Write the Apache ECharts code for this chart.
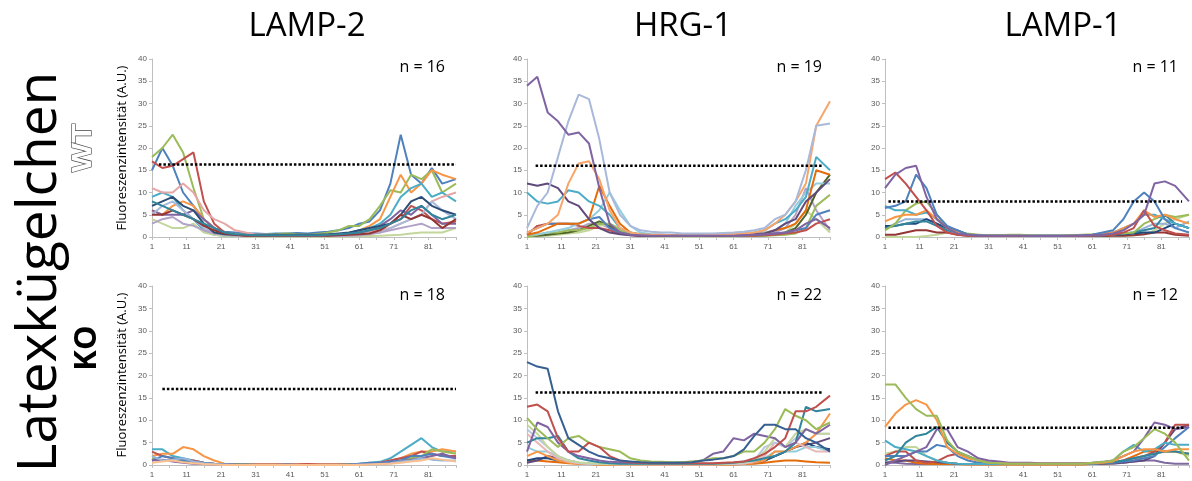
<!DOCTYPE html>
<html>
<head>
<meta charset="utf-8">
<script src="https://cdn.jsdelivr.net/npm/echarts@6/dist/echarts.min.js"></script>
<style>
  html, body { margin: 0; padding: 0; background: #fff; }
  #chart { width: 1192px; height: 481px; }
</style>
</head>
<body>
<div id="chart"></div>
<script>
// Messpositionen entlang des Profils (Pixel 1..89)
const xs = [1, 4, 7, 10, 13, 16, 19, 22, 25, 28, 31, 34, 37, 40, 43, 46, 49, 52, 55, 58, 61, 64, 67, 70, 73, 76, 79, 82, 85, 89];

const genes = ['LAMP-2', 'HRG-1', 'LAMP-1'];
const nCounts = [16, 18, 19, 22, 11, 12];
// Schwellenwert (gepunktete Linie): Höhe, Start, Ende
const thresholds = [16.3, 17, 16, 16.2, 8, 8.3];
const thrStart = [3, 4, 3.5, 3.5, 2, 2];
const thrEnd = [89, 89, 87, 87, 87, 88];

// LAMP-2 WT
const lamp2WT = [
  [15, 20, 16, 10, 7, 4, 2, 1.2, 1, 0.8, 0.8, 0.7, 0.8, 0.8, 0.9, 0.8, 1, 1.2, 1.5, 2, 3, 3.5, 6, 12, 23, 14, 12, 15.5, 12, 13],
  [18, 20, 23, 19, 11, 4, 2, 1, 0.6, 0.5, 0.5, 0.5, 0.6, 0.8, 0.6, 0.5, 0.7, 1, 1.5, 2.5, 2.5, 4, 7, 10.5, 10, 14, 13, 15, 10, 12],
  [17, 15.5, 16, 17.5, 19, 8, 3, 1, 0.5, 0.3, 0.3, 0.3, 0.2, 0.3, 0.3, 0.3, 0.3, 0.3, 0.4, 0.4, 0.5, 1, 2, 3, 4, 7, 6, 4, 3, 3.5],
  [6, 5, 7, 8, 7, 4, 2, 0.8, 0.5, 0.4, 0.3, 0.3, 0.3, 0.3, 0.3, 0.3, 0.4, 0.4, 0.5, 0.8, 1.5, 2.5, 4, 9, 14, 10, 12, 15, 14, 13],
  [9, 10, 9, 6, 4, 1.5, 0.5, 0.3, 0.3, 0.3, 0.2, 0.2, 0.3, 0.3, 0.3, 0.3, 0.3, 0.4, 0.5, 0.8, 1.5, 2, 3, 5, 9, 11, 12, 9, 10, 8],
  [11, 10, 10, 12, 10, 6, 4, 3, 1.5, 1, 0.5, 0.5, 0.4, 0.4, 0.4, 0.4, 0.5, 0.5, 0.6, 0.8, 1, 1.2, 1.5, 2, 3, 4, 5, 8, 9, 10],
  [6, 5, 5, 5, 6, 4, 2, 1, 0.5, 0.4, 0.3, 0.3, 0.3, 0.3, 0.3, 0.3, 0.3, 0.4, 0.5, 0.6, 1, 1.5, 2.5, 4, 6, 5, 7, 5, 3, 3],
  [5, 7, 8, 6, 4, 2, 1, 0.5, 0.3, 0.2, 0.2, 0.2, 0.2, 0.2, 0.2, 0.2, 0.2, 0.2, 0.2, 0.3, 0.5, 0.8, 1, 2, 3, 4, 5, 8, 6, 4],
  [4, 3, 2, 2, 3, 1, 0.5, 0.3, 0.2, 0.1, 0.1, 0.1, 0.1, 0.1, 0.1, 0.1, 0.1, 0.1, 0.1, 0.1, 0.2, 0.2, 0.3, 0.4, 0.5, 0.8, 1, 1, 1, 2],
  [3, 4, 4.5, 3, 2.5, 1.5, 0.8, 0.5, 0.3, 0.2, 0.2, 0.2, 0.2, 0.2, 0.2, 0.2, 0.2, 0.2, 0.2, 0.3, 0.4, 0.6, 1, 1.5, 2, 2.5, 3, 2, 2, 2],
  [7, 8, 9, 7, 6, 3, 1, 0.6, 0.5, 0.4, 0.4, 0.4, 0.5, 0.5, 0.5, 0.5, 0.5, 0.6, 0.8, 1, 1.5, 2, 2.5, 3, 5, 8, 9, 7, 6, 5],
  [5, 5, 6, 5, 4, 2.5, 1.5, 0.8, 0.5, 0.3, 0.3, 0.3, 0.3, 0.3, 0.3, 0.3, 0.3, 0.3, 0.4, 0.5, 0.6, 0.8, 1.5, 3, 5, 4, 5, 4, 2, 4],
  [8, 7, 6, 5, 4, 3, 2, 1, 0.6, 0.5, 0.4, 0.4, 0.4, 0.4, 0.4, 0.4, 0.4, 0.5, 0.6, 0.8, 1, 1.5, 2, 3, 4, 6, 7, 5, 4, 5]
];
const lamp2WTColors = ['#4F81BD', '#9BBB59', '#C0504D', '#F79646', '#4BACC6', '#E6A6A6', '#8064A2', '#A9B9DA', '#C3D69B', '#B3A2C7', '#2C4D75', '#943634', '#31859C'];

// LAMP-2 KO
const lamp2KO = [
  [3.5, 3.5, 2, 1.5, 1, 0.5, 0.3, 0.2, 0.1, 0.1, 0.1, 0.1, 0.1, 0.1, 0.1, 0.1, 0.1, 0.1, 0.1, 0.2, 0.3, 0.5, 0.7, 1.5, 3, 4.5, 6, 4, 3, 3],
  [2, 2.5, 2.5, 4, 3.5, 2, 1, 0.3, 0.2, 0.1, 0.1, 0.1, 0.1, 0.1, 0.1, 0.2, 0.1, 0.1, 0.1, 0.1, 0.2, 0.3, 0.5, 1, 1.5, 2.5, 3, 3, 3.5, 3],
  [3, 2, 1.5, 1, 1, 0.5, 0.3, 0.2, 0.1, 0.1, 0.1, 0.1, 0.1, 0.1, 0.1, 0.2, 0.1, 0.1, 0.1, 0.1, 0.2, 0.3, 0.5, 1, 1.5, 2, 3, 2.5, 2, 2],
  [1.5, 1, 1, 0.8, 0.5, 0.3, 0.2, 0.1, 0.1, 0.1, 0, 0, 0, 0, 0, 0, 0, 0, 0, 0.1, 0.1, 0.2, 0.3, 0.6, 1, 1.5, 2, 3.5, 3, 2.5],
  [1, 2, 1.5, 1, 0.8, 0.5, 0.3, 0.2, 0.1, 0.1, 0, 0, 0, 0.1, 0, 0, 0, 0, 0, 0.1, 0.3, 0.5, 0.5, 0.8, 1, 2, 2, 2.5, 2, 1.5],
  [1, 1.2, 0.8, 0.5, 0.3, 0.2, 0.1, 0.1, 0, 0, 0, 0, 0, 0, 0, 0, 0, 0, 0, 0, 0.1, 0.2, 0.3, 0.5, 0.8, 1.2, 1.5, 2, 2.5, 1.5],
  [2, 1, 1.2, 1.5, 0.8, 0.4, 0.2, 0.1, 0, 0, 0, 0, 0, 0, 0, 0, 0, 0, 0, 0, 0.1, 0.1, 0.2, 0.4, 0.8, 1, 1.5, 1.2, 1, 1],
  [0.5, 0.8, 1, 0.6, 0.4, 0.2, 0.1, 0, 0, 0, 0, 0, 0, 0, 0, 0, 0, 0, 0, 0, 0, 0.1, 0.2, 0.3, 0.5, 0.8, 1, 1.5, 1.2, 0.8]
];
const lamp2KOColors = ['#4BACC6', '#F79646', '#C0504D', '#9BBB59', '#4F81BD', '#8064A2', '#95B3D7', '#FAC090'];

// HRG-1 WT
const hrg1WT = [
  [0.3, 0.5, 0.5, 1, 1.5, 2, 3, 3, 2, 1, 0.5, 0.3, 0.2, 0.2, 0.2, 0.2, 0.2, 0.2, 0.2, 0.2, 0.2, 0.3, 0.4, 0.5, 1, 2, 5, 11, 6, 1.5],
  [0, 0.2, 0.3, 0.5, 0.8, 1, 1.5, 2.5, 3, 2, 0.8, 0.3, 0.2, 0.1, 0.1, 0.1, 0.1, 0.1, 0.1, 0.1, 0.1, 0.2, 0.2, 0.3, 0.5, 1, 3, 6, 4, 1],
  [0.2, 0.3, 0.5, 0.8, 1, 1.5, 2.5, 3.5, 2.5, 1, 0.5, 0.3, 0.2, 0.2, 0.2, 0.2, 0.2, 0.2, 0.2, 0.2, 0.2, 0.3, 0.3, 0.4, 0.5, 1, 2, 5, 10, 14],
  [0, 0.5, 1, 1, 1.5, 1.5, 2, 3, 3, 1.5, 0.6, 0.3, 0.2, 0.2, 0.2, 0.2, 0.2, 0.2, 0.2, 0.2, 0.2, 0.2, 0.3, 0.3, 0.4, 0.5, 0.8, 2, 7, 9.5],
  [0.5, 2.5, 3, 3, 3, 2.5, 2, 2, 1.5, 0.8, 0.4, 0.3, 0.3, 0.2, 0.2, 0.2, 0.2, 0.2, 0.2, 0.2, 0.2, 0.3, 0.3, 0.4, 0.5, 0.8, 1, 1.5, 3, 4],
  [1, 2, 3, 3, 3, 3, 4, 4.5, 2, 1, 0.5, 0.4, 0.3, 0.3, 0.3, 0.3, 0.3, 0.3, 0.3, 0.3, 0.3, 0.4, 0.5, 0.6, 0.8, 1, 1.5, 2, 5, 6],
  [0.5, 0.6, 1, 1.5, 2, 3, 4, 6, 10, 6, 2.5, 1, 0.6, 0.5, 0.5, 0.4, 0.4, 0.4, 0.4, 0.5, 0.5, 0.6, 0.8, 1, 1.5, 3, 7, 10, 12, 12],
  [0.5, 1, 2, 3, 3, 3, 4, 11.5, 7, 3, 1, 0.5, 0.4, 0.3, 0.3, 0.3, 0.3, 0.3, 0.3, 0.3, 0.4, 0.5, 0.6, 0.8, 1.5, 2, 3, 6, 15, 14],
  [10, 8, 7.5, 8, 10.5, 10, 8, 7, 5, 2, 1, 0.6, 0.5, 0.5, 0.4, 0.4, 0.4, 0.4, 0.5, 0.5, 0.6, 0.8, 1, 1.5, 3, 4, 6, 9, 18, 15],
  [12, 11.5, 12, 11, 8, 7, 4, 2, 1, 0.6, 0.4, 0.3, 0.3, 0.3, 0.3, 0.3, 0.3, 0.3, 0.3, 0.3, 0.4, 0.5, 0.6, 0.8, 1.5, 3, 4, 8, 10, 13],
  [1, 2, 3, 5, 12, 16.5, 17, 13, 6, 2, 1, 0.6, 0.5, 0.5, 0.4, 0.4, 0.4, 0.4, 0.5, 0.5, 0.7, 0.8, 1, 1.5, 3, 5, 8, 12, 25, 30.5],
  [2, 7, 10, 18, 26, 32, 31, 22, 10, 5, 2.5, 1.5, 1.2, 1, 1, 0.8, 0.8, 0.8, 0.8, 0.9, 1, 1.2, 1.5, 2, 4, 5, 8, 15, 25, 25.5],
  [34, 36, 28, 26, 23, 23.5, 21, 11, 3, 1, 0.5, 0.4, 0.3, 0.3, 0.3, 0.3, 0.3, 0.3, 0.3, 0.3, 0.3, 0.4, 0.5, 0.6, 0.8, 1, 1.5, 3, 4, 2]
];
const hrg1WTColors = ['#B3A2C7', '#C3D69B', '#4F6228', '#9BBB59', '#C0504D', '#4F81BD', '#93CDDD', '#E46C0A', '#4BACC6', '#604A7B', '#F9A56A', '#A9B9DA', '#8064A2'];

// HRG-1 KO
const hrg1KO = [
  [1, 1, 0.8, 0.6, 0.4, 0.3, 0.2, 0.1, 0.1, 0.1, 0.1, 0.1, 0.1, 0.1, 0.1, 0.1, 0.1, 0.1, 0.1, 0.1, 0.1, 0.2, 0.3, 0.5, 0.8, 1, 1, 0.8, 0.6, 0.5],
  [0.5, 1, 2, 1.5, 1, 0.5, 0.3, 0.2, 0.2, 0.2, 0.2, 0.2, 0.2, 0.2, 0.2, 0.2, 0.2, 0.2, 0.2, 0.2, 0.3, 0.4, 0.5, 1, 2, 3, 4, 4.5, 5, 6],
  [1, 1.5, 1.5, 1, 0.6, 0.4, 0.3, 0.2, 0.2, 0.2, 0.2, 0.2, 0.2, 0.2, 0.2, 0.2, 0.2, 0.2, 0.2, 0.2, 0.3, 0.4, 0.6, 1, 2, 3, 4, 5, 4, 3.5],
  [4, 3, 3, 2, 1, 0.5, 0.3, 0.2, 0.2, 0.2, 0.2, 0.2, 0.2, 0.2, 0.2, 0.2, 0.2, 0.2, 0.2, 0.2, 0.3, 0.5, 0.8, 1.5, 3, 3, 3, 4, 4, 3],
  [2, 3, 2, 1, 0.5, 0.3, 0.2, 0.1, 0.1, 0.1, 0.1, 0.1, 0.1, 0.1, 0.1, 0.1, 0.1, 0.1, 0.1, 0.1, 0.2, 0.3, 0.5, 1, 3, 3, 4, 5, 7, 11.5],
  [7, 5, 3, 1.5, 0.8, 0.4, 0.3, 0.2, 0.2, 0.1, 0.1, 0.1, 0.1, 0.1, 0.1, 0.1, 0.1, 0.1, 0.1, 0.2, 0.2, 0.3, 0.8, 2, 5, 4, 5, 4, 3, 3],
  [8, 6, 4, 2, 1, 0.5, 0.3, 0.2, 0.2, 0.2, 0.2, 0.2, 0.2, 0.2, 0.2, 0.2, 0.2, 0.2, 0.2, 0.2, 0.3, 0.5, 1, 4, 5, 4, 6, 8, 7, 7],
  [9, 7, 4, 2, 1, 0.6, 0.4, 0.3, 0.2, 0.2, 0.2, 0.2, 0.2, 0.2, 0.2, 0.2, 0.2, 0.2, 0.2, 0.3, 0.4, 0.6, 1, 3, 6, 4, 7, 8, 7, 7],
  [5, 6, 6, 6.5, 3, 1.5, 1, 0.6, 0.4, 0.3, 0.3, 0.3, 0.3, 0.3, 0.3, 0.3, 0.3, 0.3, 0.3, 0.4, 0.5, 0.8, 1, 1.5, 2, 3, 5, 13, 12, 12.5],
  [3, 9.5, 8.5, 5, 3, 2, 1.5, 1, 0.7, 0.6, 0.5, 0.5, 0.5, 0.5, 0.5, 0.6, 0.7, 1, 2.5, 3, 6, 5.5, 7, 6.5, 6, 4, 5, 8, 7, 9],
  [10.5, 8, 6, 4, 6, 6.5, 5, 4, 3.5, 3, 1.5, 1, 0.8, 0.7, 0.6, 0.6, 0.8, 1, 1.5, 1.5, 2, 3, 3, 5, 8, 12.5, 11, 10, 8, 9.5],
  [13, 13.5, 12, 6, 3, 3, 5, 4, 2, 1, 0.6, 0.5, 0.4, 0.4, 0.4, 0.4, 0.4, 0.4, 0.4, 0.5, 0.6, 0.8, 1.5, 2.5, 4, 6, 12, 12, 13, 15.5],
  [23, 22, 21.5, 12, 6, 4.5, 3, 2, 1.5, 1, 0.8, 0.6, 0.5, 0.5, 0.5, 0.5, 0.6, 1, 1.2, 1.5, 2, 3.5, 6.5, 9, 9, 8, 8, 6, 5, 3]
];
const hrg1KOColors = ['#E46C0A', '#604A7B', '#1F497D', '#93CDDD', '#F79646', '#E6B9B8', '#B9C7E2', '#C3D69B', '#31859C', '#8064A2', '#9BBB59', '#C0504D', '#376092'];

// LAMP-1 WT
const lamp1WT = [
  [0, 0, 0, 0, 0.2, 0.5, 1, 1, 0.8, 0.5, 0.3, 0.3, 0.3, 0.3, 0.3, 0.3, 0.3, 0.3, 0.3, 0.3, 0.3, 0.3, 0.3, 0.3, 0.4, 0.6, 1.5, 3, 4, 5],
  [0.5, 0.5, 1, 1.5, 1.5, 1, 1, 0.5, 0.3, 0.2, 0.2, 0.2, 0.2, 0.2, 0.2, 0.2, 0.2, 0.2, 0.2, 0.2, 0.2, 0.2, 0.3, 0.3, 0.4, 0.6, 1, 1, 0.5, 0.3],
  [2, 3, 4, 4, 4, 3, 1.5, 0.8, 0.4, 0.3, 0.2, 0.2, 0.2, 0.2, 0.2, 0.2, 0.2, 0.2, 0.2, 0.2, 0.3, 0.4, 0.5, 0.8, 1, 2, 3, 3, 2, 3.5],
  [2.5, 2.5, 3, 3, 4, 3, 2, 1.5, 0.6, 0.4, 0.3, 0.3, 0.3, 0.3, 0.3, 0.3, 0.3, 0.3, 0.3, 0.3, 0.3, 0.4, 0.5, 0.6, 0.8, 1, 1, 2, 3, 2],
  [2, 2.5, 3, 3.5, 3.5, 2.5, 1.5, 1, 0.5, 0.3, 0.3, 0.3, 0.3, 0.3, 0.3, 0.3, 0.3, 0.3, 0.3, 0.3, 0.3, 0.4, 0.5, 0.8, 1, 1.5, 2, 5, 3, 2],
  [1.5, 3, 6, 7.5, 8, 5, 2, 1, 0.6, 0.5, 0.4, 0.4, 0.5, 0.5, 0.4, 0.3, 0.3, 0.3, 0.4, 0.5, 0.6, 0.8, 1, 0.8, 1, 3, 4, 5, 4.5, 5],
  [7, 6, 6, 5, 5.5, 4, 2, 1, 0.5, 0.4, 0.3, 0.3, 0.3, 0.3, 0.3, 0.3, 0.3, 0.3, 0.3, 0.4, 0.5, 0.7, 1, 2, 3, 5, 5, 4, 3, 2],
  [3.5, 4.5, 5, 5, 6, 4, 2, 1, 0.5, 0.4, 0.3, 0.3, 0.3, 0.3, 0.3, 0.3, 0.3, 0.3, 0.3, 0.4, 0.5, 0.7, 1, 2, 3, 6, 4.5, 5, 4, 3],
  [6.5, 7, 8, 14, 11, 5, 2.5, 1.5, 0.5, 0.4, 0.3, 0.3, 0.3, 0.3, 0.3, 0.3, 0.3, 0.3, 0.3, 0.4, 0.5, 1, 1.5, 4, 8, 10, 8, 4, 2, 1],
  [13, 14.5, 12, 9, 6, 2.5, 1, 0.5, 0.3, 0.2, 0.2, 0.2, 0.2, 0.2, 0.2, 0.2, 0.2, 0.2, 0.2, 0.2, 0.3, 0.4, 0.5, 1, 2, 6, 2.5, 1.5, 0.8, 0.5],
  [11, 14, 15.5, 16, 9, 4, 2, 0.8, 0.5, 0.3, 0.3, 0.3, 0.3, 0.3, 0.2, 0.2, 0.2, 0.2, 0.3, 0.3, 0.4, 0.5, 0.8, 1.5, 3, 5, 12, 12.5, 11.5, 8]
];
const lamp1WTColors = ['#C3D69B', '#943634', '#95B3D7', '#1F497D', '#31859C', '#9BBB59', '#4BACC6', '#F79646', '#4F81BD', '#C0504D', '#8064A2'];

// LAMP-1 KO
const lamp1KO = [
  [0.5, 0.5, 0.3, 0.2, 0.2, 0.2, 0.2, 0.2, 0.2, 0.2, 0.2, 0.2, 0.2, 0.2, 0.2, 0.2, 0.2, 0.2, 0.2, 0.2, 0.2, 0.2, 0.3, 0.5, 0.8, 1, 1, 0.5, 0.3, 0.3],
  [2.5, 3, 4, 4, 2, 1, 0.5, 0.3, 0.2, 0.2, 0.2, 0.2, 0.2, 0.2, 0.2, 0.2, 0.2, 0.2, 0.2, 0.2, 0.2, 0.3, 0.4, 0.6, 1, 2, 2.5, 3, 3, 2],
  [1.5, 1, 1, 0.5, 0.3, 0.2, 0.2, 0.2, 0.1, 0.1, 0.1, 0.1, 0.1, 0.1, 0.1, 0.1, 0.1, 0.1, 0.1, 0.1, 0.2, 0.3, 0.5, 1, 2, 3, 3, 3, 3, 2.5],
  [0.5, 0.8, 1, 1, 0.8, 0.6, 0.5, 0.3, 0.2, 0.2, 0.2, 0.2, 0.2, 0.2, 0.2, 0.2, 0.2, 0.2, 0.2, 0.2, 0.2, 0.3, 0.4, 0.5, 0.8, 1, 2, 5, 8, 9],
  [2, 3, 3, 1, 0.5, 0.8, 2, 2.5, 2, 1, 0.5, 0.3, 0.2, 0.2, 0.2, 0.2, 0.2, 0.2, 0.2, 0.2, 0.3, 0.4, 0.5, 1, 1.5, 2, 3, 5, 9, 9],
  [2, 2, 2, 3, 3, 4.5, 4, 2, 1, 0.5, 0.3, 0.3, 0.3, 0.3, 0.3, 0.3, 0.3, 0.3, 0.3, 0.3, 0.3, 0.4, 0.5, 0.8, 1, 1.5, 2, 4, 6, 8.5],
  [5.5, 4, 3.5, 3, 2, 1, 0.5, 0.3, 0.2, 0.2, 0.2, 0.2, 0.2, 0.2, 0.2, 0.2, 0.2, 0.2, 0.2, 0.2, 0.3, 0.5, 1, 3, 4.5, 3, 3.5, 5, 4.5, 4.5],
  [1, 2, 5, 6.5, 7, 8.5, 5, 3, 2, 1, 0.6, 0.4, 0.3, 0.3, 0.3, 0.3, 0.3, 0.3, 0.3, 0.3, 0.4, 0.5, 0.6, 1, 1.5, 2, 2.5, 3, 3, 2.5],
  [0, 1, 2, 3, 4, 8, 8, 4, 3, 1.5, 1, 0.8, 0.5, 0.5, 0.5, 0.4, 0.4, 0.4, 0.4, 0.4, 0.5, 0.7, 1, 2, 3, 6, 9.5, 9, 8, 8.5],
  [8.5, 11.5, 13.5, 14.5, 13.5, 10, 4, 2.5, 1.5, 1, 0.5, 0.4, 0.3, 0.3, 0.3, 0.3, 0.3, 0.3, 0.3, 0.3, 0.4, 0.5, 0.8, 2, 3, 3.5, 3.5, 3, 3.5, 3.5],
  [18, 18, 15, 12.5, 11, 11, 5.5, 3, 2, 1, 0.5, 0.4, 0.3, 0.3, 0.3, 0.3, 0.3, 0.3, 0.3, 0.3, 0.5, 0.7, 1, 3, 4, 6, 8, 7, 5, 1]
];
const lamp1KOColors = ['#7F6AA0', '#C3D69B', '#E46C0A', '#604A7B', '#C0504D', '#4F81BD', '#4BACC6', '#31859C', '#8064A2', '#F79646', '#9BBB59'];

const panelLines = [lamp2WT, lamp2KO, hrg1WT, hrg1KO, lamp1WT, lamp1KO];
const panelColors = [lamp2WTColors, lamp2KOColors, hrg1WTColors, hrg1KOColors, lamp1WTColors, lamp1KOColors];

// Lage der sechs Diagramme
const grids = [
  { left: 152, top: 59, width: 304, height: 178 },
  { left: 152, top: 286, width: 304, height: 179 },
  { left: 527, top: 59, width: 303, height: 178 },
  { left: 527, top: 286, width: 303, height: 179 },
  { left: 885, top: 59, width: 304, height: 178 },
  { left: 885, top: 286, width: 304, height: 179 }
];
const titleX = [307, 683, 1063];
const nRight = [445, 445, 822, 822, 1178, 1178];

const axisColor = '#bfbfbf';
const labelStyle = { fontSize: 8, color: '#595959', fontFamily: 'Liberation Sans' };

const chart = echarts.init(document.getElementById('chart'), null, { renderer: 'canvas' });

const xAxis = grids.map((g, i) => ({
  type: 'value',
  gridIndex: i,
  min: 0,
  max: 88,
  interval: 10,
  splitLine: { show: false },
  axisLine: { lineStyle: { color: axisColor, width: 1 } },
  axisTick: { show: true, length: 3, lineStyle: { color: axisColor } },
  minorTick: { show: true, splitNumber: 2, length: 3, lineStyle: { color: axisColor } },
  axisLabel: {
    ...labelStyle,
    margin: 6,
    showMaxLabel: false,
    formatter: v => (v % 10 === 0 ? String(v + 1) : '')
  }
}));

const yAxis = grids.map((g, i) => ({
  type: 'value',
  gridIndex: i,
  min: 0,
  max: 40,
  interval: 5,
  splitLine: { show: false },
  axisLine: { show: true, lineStyle: { color: axisColor, width: 1 } },
  axisTick: { show: true, length: 3, lineStyle: { color: axisColor } },
  axisLabel: { ...labelStyle, margin: 5 }
}));

const series = [];
panelLines.forEach((lines, p) => {
  lines.forEach((vals, k) => {
    series.push({
      type: 'line',
      xAxisIndex: p,
      yAxisIndex: p,
      symbol: 'none',
      silent: true,
      lineStyle: { width: 2, color: panelColors[p][k] },
      data: xs.map((x, i) => [x - 1, vals[i]])
    });
  });
  series.push({
    type: 'line',
    xAxisIndex: p,
    yAxisIndex: p,
    symbol: 'none',
    silent: true,
    z: 10,
    lineStyle: { width: 2.5, color: '#000', type: [2.5, 2], cap: 'butt' },
    data: [[thrStart[p] - 1, thresholds[p]], [thrEnd[p] - 1, thresholds[p]]]
  });
});

const graphic = [];
genes.forEach((g, i) => {
  graphic.push({
    type: 'text', x: titleX[i], y: 27,
    style: { text: g, font: '33px "Open Sans"', fill: '#000', align: 'center', verticalAlign: 'middle' }
  });
});
nCounts.forEach((n, i) => {
  graphic.push({
    type: 'text', x: nRight[i], y: i % 2 === 0 ? 67 : 295,
    style: { text: 'n = ' + n, font: '16px "Open Sans"', fill: '#000', align: 'right', verticalAlign: 'middle' }
  });
});
[148, 375].forEach(cy => {
  graphic.push({
    type: 'text', x: 122, y: cy, rotation: Math.PI / 2,
    style: { text: 'Fluoreszenzintensität (A.U.)', font: '13px "Open Sans"', fill: '#000', align: 'center', verticalAlign: 'middle' }
  });
});
graphic.push({
  type: 'text', x: 40, y: 272, rotation: Math.PI / 2,
  style: { text: 'Latexkügelchen', font: '55px "Open Sans"', fill: '#000', align: 'center', verticalAlign: 'middle' }
});
graphic.push({
  type: 'text', x: 84, y: 148, rotation: Math.PI / 2, scaleX: 1.15,
  style: { text: 'WT', font: 'bold 27px "Liberation Sans"', fill: '#fff', stroke: '#444', lineWidth: 1.2, align: 'center', verticalAlign: 'middle' }
});
graphic.push({
  type: 'text', x: 87, y: 348, rotation: Math.PI / 2,
  style: { text: 'KO', font: 'bold 31px "Open Sans"', fill: '#000', align: 'center', verticalAlign: 'middle' }
});

chart.setOption({
  animation: false,
  backgroundColor: '#fff',
  grid: grids,
  xAxis: xAxis,
  yAxis: yAxis,
  series: series,
  graphic: graphic
});

window.onresize = () => {
  chart.resize();
};
</script>
</body>
</html>
